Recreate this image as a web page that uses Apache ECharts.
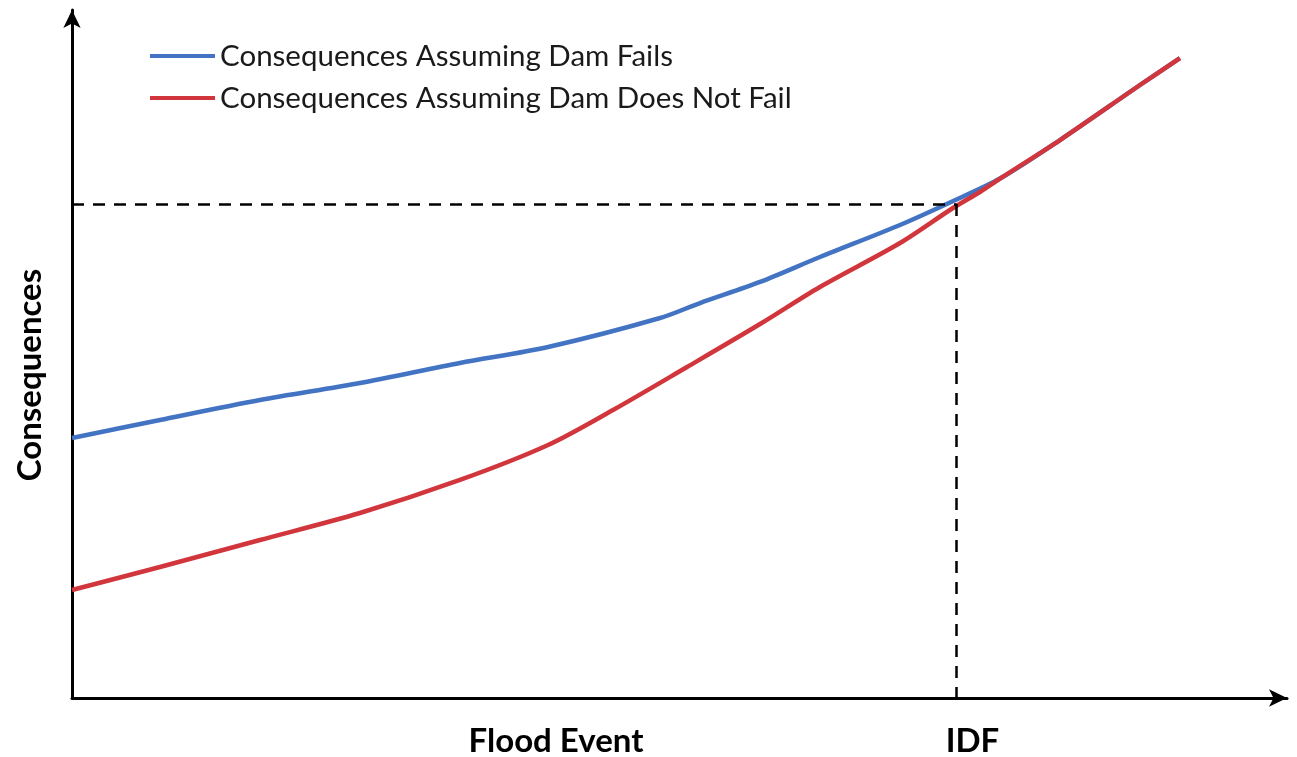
<!DOCTYPE html>
<html>
<head>
<meta charset="utf-8">
<script src="https://cdn.jsdelivr.net/npm/echarts@6/dist/echarts.min.js"></script>
<style>html,body{margin:0;padding:0;background:#fff;}#c{width:1297px;height:757px;}</style>
</head>
<body>
<div id="c"></div>
<script>
// Flood event magnitude (relative units, 0-100) and consequences (relative units, 0-100)
const failsX   = [0, 7.24, 15.47, 23.70, 31.93, 39.18, 48.40, 51.69, 56.63, 61.56, 68.15, 72.26, 76.38, 81.32, 87.90, 91.19];
const failsY   = [37.79, 40.41, 43.31, 45.78, 48.69, 51.02, 55.23, 57.41, 60.47, 64.10, 68.75, 72.02, 75.50, 81.10, 89.10, 93.02];
const notFailX = [0, 7.24, 15.47, 23.70, 31.93, 39.18, 44.53, 50.62, 56.63, 61.56, 68.15, 72.51, 74.73, 76.38, 81.32, 87.90, 91.19];
const notFailY = [15.70, 19.04, 22.97, 26.89, 31.69, 36.77, 41.86, 48.11, 54.36, 59.74, 66.13, 71.22, 73.55, 75.50, 81.10, 89.10, 93.02];
const idfX = 72.8;
const idfY = 71.8;
const seriesNames = ['Consequences Assuming Dam Fails', 'Consequences Assuming Dam Does Not Fail'];
const xAxisTitle = 'Flood Event';
const yAxisTitle = 'Consequences';
const idfLabel = 'IDF';

const font = 'Lato, "Open Sans", sans-serif';
const chart = echarts.init(document.getElementById('c'), null, {renderer: 'canvas'});
const pairs = (xs, ys) => xs.map((x, i) => [x, ys[i]]);

chart.setOption({
  animation: false,
  backgroundColor: '#ffffff',
  grid: {left: 72, right: 10, top: 10, bottom: 59, containLabel: false},
  legend: {
    orient: 'vertical', left: 150, top: 39, padding: 0,
    itemWidth: 65, itemHeight: 4, itemGap: 8,
    icon: 'rect',
    data: seriesNames,
    textStyle: {fontFamily: font, fontSize: 29.5, color: '#1a1a1a', lineHeight: 34}
  },
  xAxis: {
    type: 'value', min: 0, max: 100,
    axisLine: {show: true, symbol: ['none', 'arrow'], symbolSize: [13, 18], lineStyle: {color: '#000', width: 3}},
    axisTick: {show: false}, axisLabel: {show: false}, splitLine: {show: false}
  },
  yAxis: {
    type: 'value', min: 0, max: 100,
    axisLine: {show: true, symbol: ['none', 'arrow'], symbolSize: [13, 18], lineStyle: {color: '#000', width: 3}},
    axisTick: {show: false}, axisLabel: {show: false}, splitLine: {show: false}
  },
  series: [
    {
      name: seriesNames[0], type: 'line', smooth: 0.3, showSymbol: false,
      data: pairs(failsX, failsY),
      itemStyle: {color: '#4374c3'}, lineStyle: {color: '#4374c3', width: 4.5},
      markLine: {
        silent: true, symbol: 'none', label: {show: false},
        lineStyle: {color: '#000', width: 2.5, type: [12, 9]},
        data: [
          [{coord: [0, idfY]}, {coord: [idfX, idfY]}],
          [{coord: [idfX, idfY]}, {coord: [idfX, 0]}]
        ]
      }
    },
    {
      name: seriesNames[1], type: 'line', smooth: 0.3, showSymbol: false,
      data: pairs(notFailX, notFailY),
      itemStyle: {color: '#d2363d'}, lineStyle: {color: '#d2363d', width: 4.5}
    }
  ]
});

const idfPix = chart.convertToPixel({gridIndex: 0}, [idfX, 0]);
chart.setOption({
  graphic: [
    {type: 'text', x: 556, y: 741, style: {text: xAxisTitle, fontFamily: font, fontSize: 33, fontWeight: 'bold', fill: '#000', align: 'center', verticalAlign: 'middle'}},
    {type: 'text', x: idfPix[0] + 16, y: 741, style: {text: idfLabel, fontFamily: font, fontSize: 33, fontWeight: 'bold', fill: '#000', align: 'center', verticalAlign: 'middle'}},
    {type: 'text', x: 30, y: 375, rotation: Math.PI / 2, style: {text: yAxisTitle, fontFamily: font, fontSize: 33, fontWeight: 'bold', fill: '#000', align: 'center', verticalAlign: 'middle'}}
  ]
});
</script>
</body>
</html>
